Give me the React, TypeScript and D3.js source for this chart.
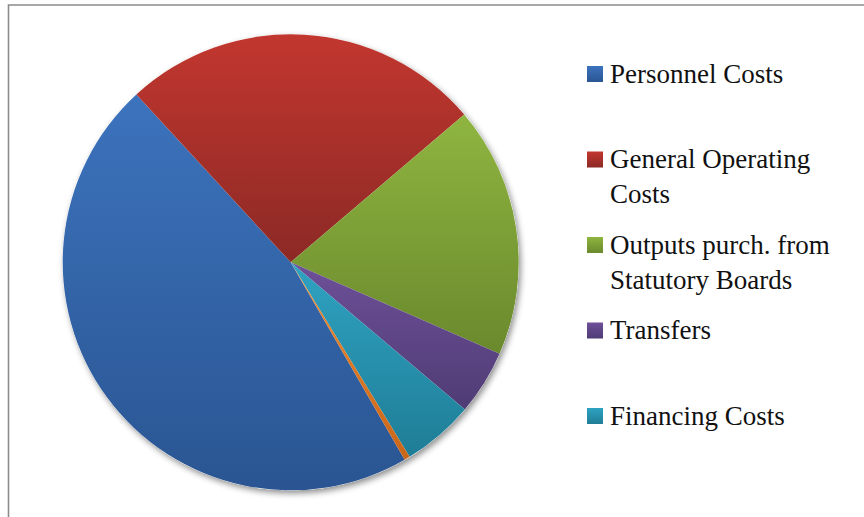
import React from 'react'
import * as d3 from 'd3'

const width = 864
const height = 517

// slices, clockwise (percent of total)
const categories = ['Personnel Costs', 'General Operating Costs', 'Outputs purch. from Statutory Boards', 'Transfers', 'Financing Costs', 'Others']
const values = [46.5, 25.6, 17.8, 4.6, 5.1, 0.4]
const legendLabels = ['Personnel Costs', 'General Operating\nCosts', 'Outputs purch. from\nStatutory Boards', 'Transfers', 'Financing Costs']
const lightColors = ['#3c73bd', '#c2372f', '#8fb540', '#6e5099', '#2fa3c2', '#f08a2c']
const darkColors = ['#2a5592', '#8c2925', '#6a892d', '#4f3c74', '#1f7d96', '#c8661a']

const cx = 290.7
const cy = 262.3
const radius = 228
const startDeg = 150

export default function App () {
  const pie = d3.pie<number>()
    .sort(null)
    .startAngle(startDeg * Math.PI / 180)
    .endAngle(startDeg * Math.PI / 180 + 2 * Math.PI)
  const arcs = pie(values)
  const arc = d3.arc<d3.PieArcDatum<number>>().innerRadius(0).outerRadius(radius)

  const legendY = d3.scaleLinear().domain([0, legendLabels.length - 1]).range([66, 408])

  return (
    <svg width={width} height={height} style={{ position: 'absolute', left: 0, top: 0, background: '#fff' }}>
      <defs>
        <filter id="shadow" x="-20%" y="-20%" width="140%" height="140%">
          <feDropShadow dx="2" dy="3" stdDeviation="3" floodColor="#000" floodOpacity="0.45" />
        </filter>
        {categories.map((c, i) => (
          <linearGradient key={c} id={'g' + i} x1="0" y1="0" x2="0" y2="1">
            <stop offset="0%" stopColor={lightColors[i]} />
            <stop offset="100%" stopColor={darkColors[i]} />
          </linearGradient>
        ))}
        {legendLabels.map((c, i) => (
          <linearGradient key={c} id={'lg' + i} x1="0" y1="0" x2="0" y2="1">
            <stop offset="0%" stopColor={lightColors[i]} />
            <stop offset="100%" stopColor={darkColors[i]} />
          </linearGradient>
        ))}
      </defs>

      {/* chart frame, only left and top edges are in view */}
      <path d={`M8.5,${height} V5 H${width}`} fill="none" stroke="#8c8c8c" strokeWidth={1.6} />

      <g transform={`translate(${cx},${cy})`}>
        <circle r={radius} fill="#fff" filter="url(#shadow)" />
        {arcs.map((d, i) => (
          <path key={categories[i]} d={arc(d) || ''} fill={`url(#g${i})`} />
        ))}
      </g>

      <g fontFamily="'Liberation Serif', serif" fontSize={27} fill="#111">
        {legendLabels.map((label, i) => {
          const y = legendY(i)
          return (
            <g key={label}>
              <rect x={587} y={y} width={16} height={16} fill={`url(#lg${i})`} />
              <text x={610} y={y + 16.5}>
                {label.split('\n').map((line, j) => (
                  <tspan key={j} x={610} dy={j === 0 ? 0 : 35}>{line}</tspan>
                ))}
              </text>
            </g>
          )
        })}
      </g>
    </svg>
  )
}
